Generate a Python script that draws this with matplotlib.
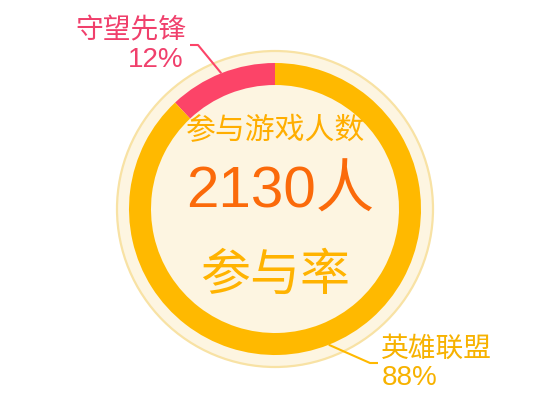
import matplotlib
matplotlib.use("Agg")
import matplotlib.pyplot as plt
from matplotlib.patches import Circle
import numpy as np

plt.rcParams['font.family'] = ['Noto Sans CJK SC', 'DejaVu Sans']
NUM_FAMILY = ['Liberation Sans', 'Noto Sans CJK SC']

# data
games = ['守望先锋', '英雄联盟']
shares = [12, 88]
total_players = 2130
center_title = '参与游戏人数'
center_value = f'{total_players}人'
center_sub = '参与率'

colors = ['#fc4468', '#ffb900']
label_colors = ['#f0406c', '#f7b200']

W, H = 550, 420
fig = plt.figure(figsize=(W / 100, H / 100), dpi=100)
ax = fig.add_axes([0, 0, 1, 1])

cx, cy = 275, 211
R_bg, R_ring, ring_w = 158, 146, 22

ax.add_patch(Circle((cx, cy), R_bg, facecolor='#fdf5e1', edgecolor='#f8e2a4', lw=1.6, zorder=0))

wedges, _ = ax.pie(shares, colors=colors, startangle=90, counterclock=True,
                   radius=R_ring, center=(cx, cy),
                   wedgeprops=dict(width=ring_w, linewidth=0))

ax.set_xlim(0, W)
ax.set_ylim(0, H)
ax.set_aspect('equal')
ax.axis('off')

# leader lines & labels
elbows = [(198, H - 45), (370, H - 363)]
ends = [(190, H - 45), (378, H - 363)]
for i, w in enumerate(wedges):
    mid = np.deg2rad((w.theta1 + w.theta2) / 2)
    sx, sy = cx + R_ring * np.cos(mid), cy + R_ring * np.sin(mid)
    ex, ey = elbows[i]
    fx, fy = ends[i]
    ax.plot([sx, ex, fx], [sy, ey, fy], color=colors[i], lw=1.5, solid_capstyle='butt')

ax.text(186, H - 30, games[0], ha='right', va='center', fontsize=20,
        color=label_colors[0], fontweight='medium')
ax.text(184, H - 60, f'{shares[0]}%', ha='right', va='center', fontsize=20,
        color=label_colors[0], family=NUM_FAMILY)
ax.text(381, H - 349, games[1], ha='left', va='center', fontsize=20,
        color=label_colors[1], fontweight='medium')
ax.text(382, H - 378, f'{shares[1]}%', ha='left', va='center', fontsize=20,
        color=label_colors[1], family=NUM_FAMILY)

# center texts
ax.text(cx, H - 131, center_title, ha='center', va='center', fontsize=21.5,
        color='#ffae00', fontweight='medium')
ax.text(cx + 5, H - 193, center_value, ha='center', va='center', fontsize=42,
        color='#fb6a0a', family=NUM_FAMILY)
ax.text(cx, H - 276, center_sub, ha='center', va='center', fontsize=36,
        color='#ffb300', fontweight='medium')

fig.savefig('out.png', dpi=100)
